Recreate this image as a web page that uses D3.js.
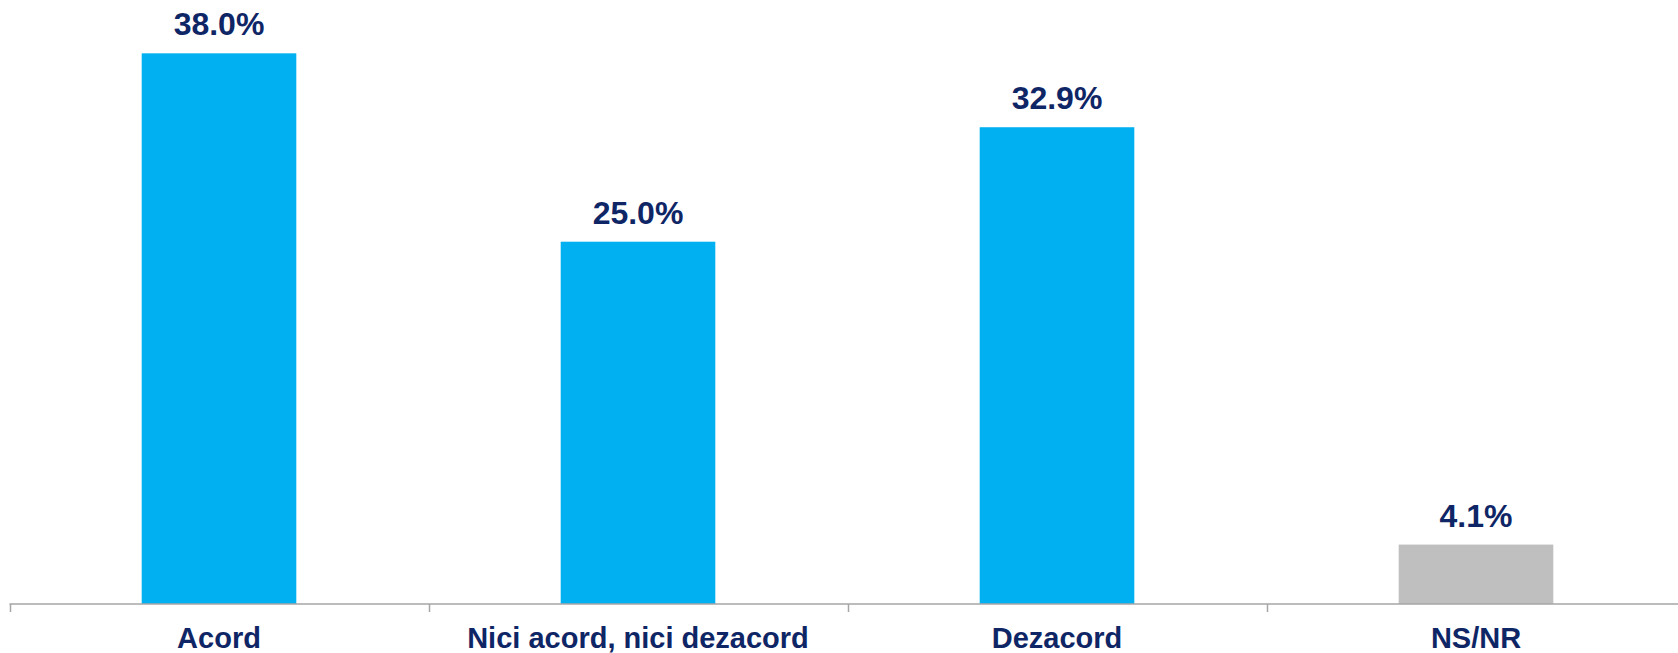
<!DOCTYPE html>
<html>
<head>
<meta charset="utf-8">
<script src="https://cdn.jsdelivr.net/npm/d3@7"></script>
<style>
  body { margin: 0; background: #fff; }
  svg { display: block; }
</style>
</head>
<body>
<div id="chart"></div>
<script>
var categories = ["Acord", "Nici acord, nici dezacord", "Dezacord", "NS/NR"];
var values = [38.0, 25.0, 32.9, 4.1];
var barColors = ["#00b0f0", "#00b0f0", "#00b0f0", "#bfbfbf"];

var width = 1678, height = 653;
var axisY = 604;

var svg = d3.select("#chart").append("svg")
    .attr("width", width)
    .attr("height", height);

var x = d3.scaleBand()
    .domain(categories)
    .range([9.5, 9.5 + 4 * 419])
    .paddingInner(0.631)
    .paddingOuter(0.3155);

var y = d3.scaleLinear()
    .domain([0, 41.68])
    .range([axisY, 0]);

var data = categories.map(function (c, i) {
    return { cat: c, val: values[i], color: barColors[i] };
});

svg.selectAll("rect.bar")
    .data(data)
    .enter()
    .append("rect")
    .attr("class", "bar")
    .attr("x", function (d) { return x(d.cat); })
    .attr("y", function (d) { return y(d.val); })
    .attr("width", x.bandwidth())
    .attr("height", function (d) { return axisY - y(d.val); })
    .style("fill", function (d) { return d.color; });

// axis line + ticks at band boundaries
var step = x.step();
svg.append("line")
    .attr("x1", 9.5).attr("x2", width)
    .attr("y1", axisY).attr("y2", axisY)
    .style("stroke", "#a6a6a6")
    .style("stroke-width", 1.5);

svg.selectAll("line.tick")
    .data(categories)
    .enter()
    .append("line")
    .attr("class", "tick")
    .attr("x1", function (d) { return Math.round(x(d) - (step - x.bandwidth()) / 2) + 0.5; })
    .attr("x2", function (d) { return Math.round(x(d) - (step - x.bandwidth()) / 2) + 0.5; })
    .attr("y1", axisY)
    .attr("y2", axisY + 8)
    .style("stroke", "#a6a6a6")
    .style("stroke-width", 1.5);

svg.selectAll("text.val")
    .data(data)
    .enter()
    .append("text")
    .attr("class", "val")
    .attr("x", function (d) { return x(d.cat) + x.bandwidth() / 2; })
    .attr("y", function (d) { return y(d.val) - 18; })
    .attr("text-anchor", "middle")
    .style("font-family", "'Liberation Sans', Arial, sans-serif")
    .style("font-weight", "bold")
    .style("font-size", "32px")
    .style("fill", "#0f2666")
    .text(function (d) { return d.val.toFixed(1) + "%"; });

svg.selectAll("text.cat")
    .data(data)
    .enter()
    .append("text")
    .attr("class", "cat")
    .attr("x", function (d) { return x(d.cat) + x.bandwidth() / 2; })
    .attr("y", 648)
    .attr("text-anchor", "middle")
    .style("font-family", "'Liberation Sans', Arial, sans-serif")
    .style("font-weight", "bold")
    .style("font-size", "29px")
    .style("fill", "#0f2666")
    .text(function (d) { return d.cat; });
</script>
</body>
</html>
